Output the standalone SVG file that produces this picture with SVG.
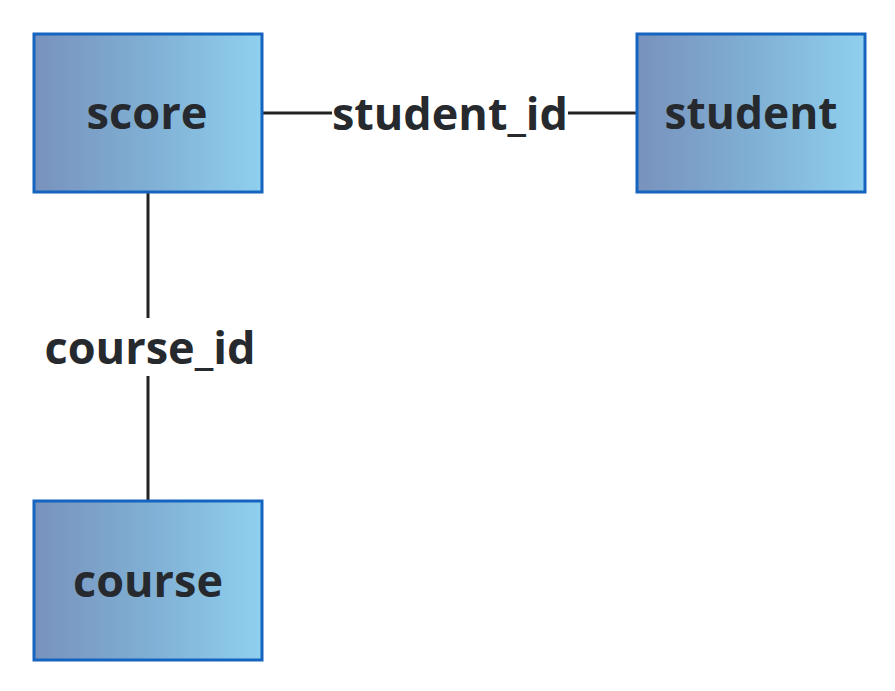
<svg xmlns="http://www.w3.org/2000/svg" width="895" height="691" viewBox="0 0 895 691">
<defs>
<linearGradient id="g" x1="0" y1="0" x2="1" y2="0">
<stop offset="0" stop-color="#7892bc"/>
<stop offset="0.5" stop-color="#80afd4"/>
<stop offset="1" stop-color="#8fd0ee"/>
</linearGradient>
</defs>
<style>
.box{fill:url(#g);stroke:#1565c0;stroke-width:3}
.t{font-family:"Open Sans","DejaVu Sans",sans-serif;font-weight:bold;font-size:44px;fill:#262a2e;text-anchor:middle}
.c{stroke:#222;stroke-width:3;fill:none}
</style>
<rect width="895" height="691" fill="#fff"/>
<g id="connectors">
<line class="c" x1="262" y1="113" x2="332" y2="113"/>
<line class="c" x1="568" y1="113" x2="636" y2="113"/>
<line class="c" x1="148" y1="193" x2="148" y2="318"/>
<line class="c" x1="148" y1="376" x2="148" y2="501"/>
<text class="t" x="450" y="130" textLength="236" lengthAdjust="spacingAndGlyphs">student_id</text>
<text class="t" x="150" y="364" textLength="211" lengthAdjust="spacingAndGlyphs">course_id</text>
</g>
<g id="score">
<rect class="box" x="34" y="34" width="228" height="158"/>
<text class="t" x="147" y="129" textLength="121" lengthAdjust="spacingAndGlyphs">score</text>
</g>
<g id="student">
<rect class="box" x="637" y="34" width="228" height="158"/>
<text class="t" x="751" y="129" textLength="173" lengthAdjust="spacingAndGlyphs">student</text>
</g>
<g id="course">
<rect class="box" x="34" y="501" width="228" height="159"/>
<text class="t" x="148" y="597" textLength="150" lengthAdjust="spacingAndGlyphs">course</text>
</g>
</svg>
